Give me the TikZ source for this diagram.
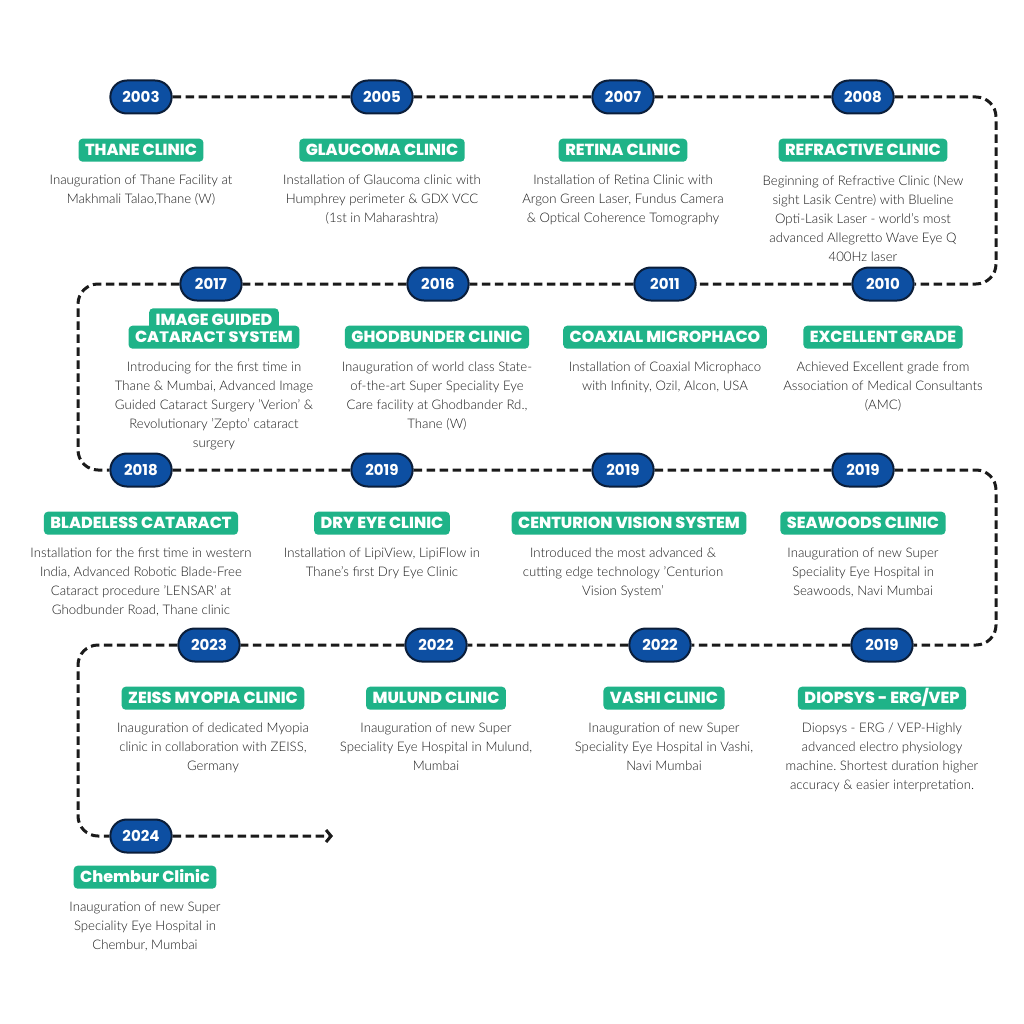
\documentclass[tikz,border=0pt]{standalone}
\usepackage{fontspec}
\IfFontExistsTF{Lato Light}{\setmainfont{Lato Light}}{\setmainfont{Lato}}
\IfFontExistsTF{Poppins ExtraBold}{\newfontfamily\headfont{Poppins}[BoldFont=* ExtraBold]}{\newfontfamily\headfont{Poppins}}
\newfontfamily\yearfont{Poppins}
\usetikzlibrary{arrows.meta, positioning, shapes.misc, backgrounds}
\frenchspacing

\definecolor{pillblue}{HTML}{0D4FA2}
\definecolor{pilledge}{HTML}{0B1E3A}
\definecolor{tagreen}{HTML}{1FB388}
\definecolor{bodygray}{HTML}{1C1C1C}
\definecolor{linegray}{HTML}{1A1A1A}

\begin{document}
\begin{tikzpicture}[
        x=1pt, y=-1pt,
        year/.style={
            rounded rectangle,
            draw=pilledge,
            line width=2pt,
            fill=pillblue,
            minimum width=68pt,
            minimum height=33pt,
            text=white,
            font=\yearfont\bfseries\fontsize{15}{15}\selectfont
        },
        tag/.style={
            rectangle,
            rounded corners=4pt,
            fill=tagreen,
            text=white,
            inner xsep=6.5pt,
            inner ysep=0pt,
            minimum height=23pt,
            text height=11pt,
            text depth=0pt,
            font=\headfont\bfseries\fontsize{16}{16}\selectfont
        },
        info/.style={
            align=center,
            inner sep=0pt,
            text=bodygray,
            font=\fontsize{13.2}{19}\selectfont
        },
        timeline/.style={
            line width=3pt,
            dash pattern=on 8.5pt off 4.5pt,
            color=linegray,
            rounded corners=20pt
        }
    ]

    \useasboundingbox (0,0) rectangle (1024,1024);

    % row 1
    \node (y2003) [year] at (141,97) {2003};
    \node (y2005) [year] at (382,97) {2005};
    \node (y2007) [year] at (623,97) {2007};
    \node (y2008) [year] at (863,97) {2008};

    \node (thane) [tag, below=24pt of y2003] {THANE CLINIC};
    \node (glaucoma) [tag, below=24pt of y2005] {GLAUCOMA CLINIC};
    \node (retina) [tag, below=24pt of y2007] {RETINA CLINIC};
    \node (refractive) [tag, below=24pt of y2008] {REFRACTIVE CLINIC};

    \node (thaneinfo) [info, below=13pt of thane] {Inauguration of Thane Facility at\\Makhmali Talao,Thane (W)};
    \node (glaucomainfo) [info, below=13pt of glaucoma] {Installation of Glaucoma clinic with\\Humphrey perimeter \& GDX VCC\\(1st in Maharashtra)};
    \node (retinainfo) [info, below=13pt of retina] {Installation of Retina Clinic with\\Argon Green Laser, Fundus Camera\\\& Optical Coherence Tomography};
    \node (refractiveinfo) [info, below=13pt of refractive] {Beginning of Refractive Clinic (New\\sight Lasik Centre) with Blueline\\Opti-Lasik Laser - world's most\\advanced Allegretto Wave Eye Q\\400Hz laser};

    % row 2
    \node (y2017) [year] at (211,284) {2017};
    \node (y2016) [year] at (438,284) {2016};
    \node (y2011) [year] at (665,284) {2011};
    \node (y2010) [year] at (883,284) {2010};

    \node (imageguided) [tag, below=24pt of y2017, xshift=3pt] {CATARACT SYSTEM};
    \node (imageguidedtop) [tag, above=-6pt of imageguided] {IMAGE GUIDED};
    \node (ghodbunder) [tag, below=24pt of y2016, xshift=-1pt] {GHODBUNDER CLINIC};
    \node (coaxial) [tag, below=24pt of y2011] {COAXIAL MICROPHACO};
    \node (excellent) [tag, below=24pt of y2010] {EXCELLENT GRADE};

    \node (imageguidedinfo) [info, below=13pt of imageguided] {Introducing for the first time in\\Thane \& Mumbai, Advanced Image\\Guided Cataract Surgery 'Verion' \&\\Revolutionary 'Zepto' cataract\\surgery};
    \node (ghodbunderinfo) [info, below=13pt of ghodbunder] {Inauguration of world class State-\\of-the-art Super Speciality Eye\\Care facility at Ghodbander Rd.,\\Thane (W)};
    \node (coaxialinfo) [info, below=13pt of coaxial] {Installation of Coaxial Microphaco\\with Infinity, Ozil, Alcon, USA};
    \node (excellentinfo) [info, below=13pt of excellent] {Achieved Excellent grade from\\Association of Medical Consultants\\(AMC)};

    % row 3
    \node (y2018) [year] at (141,470) {2018};
    \node (y2019a) [year] at (382,470) {2019};
    \node (y2019b) [year] at (623,470) {2019};
    \node (y2019c) [year] at (863,470) {2019};

    \node (bladeless) [tag, below=24pt of y2018] {BLADELESS CATARACT};
    \node (dryeye) [tag, below=24pt of y2019a] {DRY EYE CLINIC};
    \node (centurion) [tag, below=24pt of y2019b, xshift=6pt] {CENTURION VISION SYSTEM};
    \node (seawoods) [tag, below=24pt of y2019c] {SEAWOODS CLINIC};

    \node (bladelessinfo) [info, below=13pt of bladeless] {Installation for the first time in western\\India, Advanced Robotic Blade-Free\\Cataract procedure 'LENSAR' at\\Ghodbunder Road, Thane clinic};
    \node (dryeyeinfo) [info, below=13pt of dryeye] {Installation of LipiView, LipiFlow in\\Thane's first Dry Eye Clinic};
    \node (centurioninfo) [info, below=13pt of centurion, xshift=-6pt] {Introduced the most advanced \&\\cutting edge technology 'Centurion\\Vision System'};
    \node (seawoodsinfo) [info, below=13pt of seawoods] {Inauguration of new Super\\Speciality Eye Hospital in\\Seawoods, Navi Mumbai};

    % row 4
    \node (y2023) [year] at (209,645) {2023};
    \node (y2022a) [year] at (436,645) {2022};
    \node (y2022b) [year] at (660,645) {2022};
    \node (y2019d) [year] at (882,645) {2019};

    \node (zeiss) [tag, below=24pt of y2023, xshift=4pt] {ZEISS MYOPIA CLINIC};
    \node (mulund) [tag, below=24pt of y2022a] {MULUND CLINIC};
    \node (vashi) [tag, below=24pt of y2022b, xshift=4pt] {VASHI CLINIC};
    \node (diopsys) [tag, below=24pt of y2019d] {DIOPSYS - ERG/VEP};

    \node (zeissinfo) [info, below=13pt of zeiss] {Inauguration of dedicated Myopia\\clinic in collaboration with ZEISS,\\Germany};
    \node (mulundinfo) [info, below=13pt of mulund] {Inauguration of new Super\\Speciality Eye Hospital in Mulund,\\Mumbai};
    \node (vashiinfo) [info, below=13pt of vashi] {Inauguration of new Super\\Speciality Eye Hospital in Vashi,\\Navi Mumbai};
    \node (diopsysinfo) [info, below=13pt of diopsys] {Diopsys - ERG / VEP-Highly\\advanced electro physiology\\machine. Shortest duration higher\\accuracy \& easier interpretation.};

    % row 5
    \node (y2024) [year] at (141,836) {2024};
    \node (chembur) [tag, below=12pt of y2024, xshift=4pt] {Chembur Clinic};
    \node (chemburinfo) [info, below=13pt of chembur] {Inauguration of new Super\\Speciality Eye Hospital in\\Chembur, Mumbai};

    % turns of the dashed line
    \coordinate (c1) at (996,97);
    \coordinate (c2) at (996,284);
    \coordinate (c3) at (78,284);
    \coordinate (c4) at (78,470);
    \coordinate (c5) at (996,470);
    \coordinate (c6) at (996,645);
    \coordinate (c7) at (78,645);
    \coordinate (c8) at (78,836);
    \coordinate (tip) at (333,836);

    \begin{scope}[on background layer]
        \fill[white] (0,0) rectangle (1024,1024);
        \draw [timeline] (y2003) -- (y2005) -- (y2007) -- (y2008) -- (c1) -- (c2) -- (y2010)
            -- (y2011) -- (y2016) -- (y2017) -- (c3) -- (c4) -- (y2018)
            -- (y2019a) -- (y2019b) -- (y2019c) -- (c5) -- (c6) -- (y2019d)
            -- (y2022b) -- (y2022a) -- (y2023) -- (c7) -- (c8) -- (y2024);
        \draw [timeline, -{Straight Barb[length=5pt, width=12pt]}] (y2024) -- (tip);
    \end{scope}

    \end{tikzpicture}
\end{document}
